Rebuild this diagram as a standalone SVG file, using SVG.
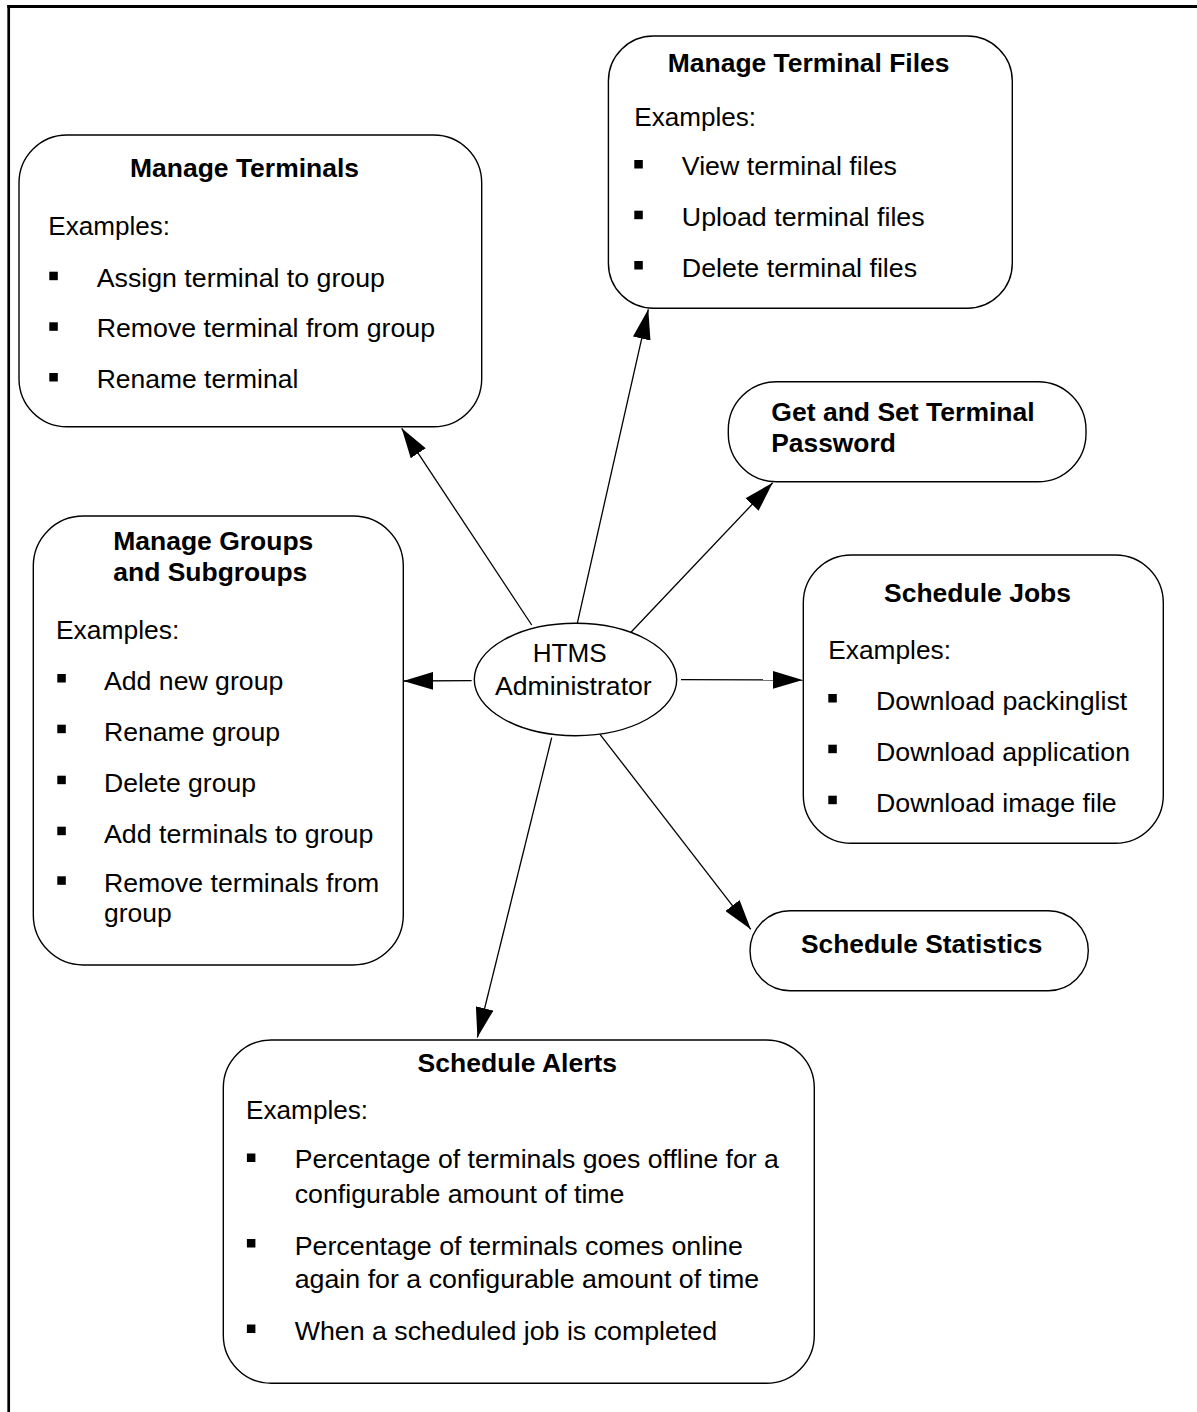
<svg xmlns="http://www.w3.org/2000/svg" width="1197" height="1412" viewBox="0 0 1197 1412">
<style>
  .box { fill: #fff; stroke: #000; stroke-width: 1.4; }
  .frame { stroke: #000; fill: none; }
  .conn { stroke: #000; stroke-width: 1.3; fill: none; marker-end: url(#ah); }
  text { font-family: "Liberation Sans", Arial, Helvetica, sans-serif; font-size: 25px; fill: #000; }
  .t { font-weight: bold; }
  .b { fill: #000; }
</style>
<defs>
  <marker id="ah" markerUnits="userSpaceOnUse" markerWidth="31" markerHeight="18" refX="30" refY="9" orient="auto">
    <path d="M0,0 L30,9 L0,18 Z" fill="#000"/>
  </marker>
</defs>
<rect width="1197" height="1412" fill="#fff"/>
<g id="frame">
  <line class="frame" x1="7.3" y1="6.5" x2="1197" y2="6.5" stroke-width="3"/>
  <line class="frame" x1="8.7" y1="5" x2="8.7" y2="1412" stroke-width="2.7"/>
</g>
<g id="connectors">
  <line class="conn" x1="531.7" y1="625" x2="401.7" y2="428.3"/>
  <line class="conn" x1="577.3" y1="623.3" x2="648.3" y2="309.3"/>
  <line class="conn" x1="630" y1="633.3" x2="772.7" y2="482.7"/>
  <line class="conn" x1="471.7" y1="680.7" x2="403.3" y2="681"/>
  <line class="conn" x1="681" y1="679.7" x2="802.7" y2="680"/>
  <line class="conn" x1="600" y1="734.3" x2="750.8" y2="929.3"/>
  <line class="conn" x1="551.7" y1="737.7" x2="477.4" y2="1037.5"/>
</g>
<g id="htms-administrator">
  <ellipse class="box" cx="575.5" cy="679.5" rx="101.2" ry="56.2"/>
  <text x="532.7" y="661.7" textLength="74" lengthAdjust="spacingAndGlyphs">HTMS</text>
  <text x="495" y="695" textLength="156.7" lengthAdjust="spacingAndGlyphs">Administrator</text>
</g>
<g id="manage-terminals">
  <rect class="box" x="19" y="135" width="462.7" height="291.7" rx="48" ry="48"/>
  <text class="t" x="130" y="176.7" textLength="229" lengthAdjust="spacingAndGlyphs">Manage Terminals</text>
  <text x="48.3" y="235" textLength="121.7" lengthAdjust="spacingAndGlyphs">Examples:</text>
  <rect class="b" x="49.3" y="271.7" width="8.5" height="8.5"/>
  <rect class="b" x="49.3" y="322.3" width="8.5" height="8.5"/>
  <rect class="b" x="49.3" y="373" width="8.5" height="8.5"/>
  <text x="96.7" y="286.7" textLength="288.3" lengthAdjust="spacingAndGlyphs">Assign terminal to group</text>
  <text x="96.7" y="337.3" textLength="338.3" lengthAdjust="spacingAndGlyphs">Remove terminal from group</text>
  <text x="96.7" y="388" textLength="201.6" lengthAdjust="spacingAndGlyphs">Rename terminal</text>
</g>
<g id="manage-terminal-files">
  <rect class="box" x="608.4" y="36" width="403.9" height="272.3" rx="45" ry="45"/>
  <text class="t" x="667.8" y="71.7" textLength="281.7" lengthAdjust="spacingAndGlyphs">Manage Terminal Files</text>
  <text x="634.3" y="126" textLength="121.8" lengthAdjust="spacingAndGlyphs">Examples:</text>
  <rect class="b" x="634.3" y="160" width="8.5" height="8.5"/>
  <rect class="b" x="634.3" y="210.7" width="8.5" height="8.5"/>
  <rect class="b" x="634.3" y="261" width="8.5" height="8.5"/>
  <text x="681.8" y="175" textLength="215.1" lengthAdjust="spacingAndGlyphs">View terminal files</text>
  <text x="681.8" y="226.3" textLength="242.9" lengthAdjust="spacingAndGlyphs">Upload terminal files</text>
  <text x="681.8" y="277" textLength="235.3" lengthAdjust="spacingAndGlyphs">Delete terminal files</text>
</g>
<g id="get-set-password">
  <rect class="box" x="728.3" y="381.7" width="357.7" height="100" rx="48" ry="48"/>
  <text class="t" x="771.3" y="420.7" textLength="263.4" lengthAdjust="spacingAndGlyphs">Get and Set Terminal</text>
  <text class="t" x="771.3" y="451.7" textLength="124.5" lengthAdjust="spacingAndGlyphs">Password</text>
</g>
<g id="manage-groups">
  <rect class="box" x="33.3" y="516" width="370" height="449" rx="50" ry="50"/>
  <text class="t" x="113.3" y="550" textLength="200" lengthAdjust="spacingAndGlyphs">Manage Groups</text>
  <text class="t" x="113.3" y="581" textLength="194" lengthAdjust="spacingAndGlyphs">and Subgroups</text>
  <text x="56" y="639.3" textLength="123.3" lengthAdjust="spacingAndGlyphs">Examples:</text>
  <rect class="b" x="57.3" y="674" width="8.5" height="8.5"/>
  <rect class="b" x="57.3" y="724.7" width="8.5" height="8.5"/>
  <rect class="b" x="57.3" y="775.7" width="8.5" height="8.5"/>
  <rect class="b" x="57.3" y="826.7" width="8.5" height="8.5"/>
  <rect class="b" x="57.3" y="876.3" width="8.5" height="8.5"/>
  <text x="104" y="690" textLength="179.3" lengthAdjust="spacingAndGlyphs">Add new group</text>
  <text x="104" y="740.7" textLength="176" lengthAdjust="spacingAndGlyphs">Rename group</text>
  <text x="104" y="791.7" textLength="152" lengthAdjust="spacingAndGlyphs">Delete group</text>
  <text x="104" y="842.7" textLength="269.3" lengthAdjust="spacingAndGlyphs">Add terminals to group</text>
  <text x="104" y="892.3" textLength="275.3" lengthAdjust="spacingAndGlyphs">Remove terminals from</text>
  <text x="104" y="921.7" textLength="67.7" lengthAdjust="spacingAndGlyphs">group</text>
</g>
<g id="schedule-jobs">
  <rect class="box" x="803.3" y="555" width="360" height="288.3" rx="48" ry="48"/>
  <text class="t" x="884" y="601.7" textLength="187" lengthAdjust="spacingAndGlyphs">Schedule Jobs</text>
  <text x="828.3" y="659.3" textLength="122.7" lengthAdjust="spacingAndGlyphs">Examples:</text>
  <rect class="b" x="828.3" y="694" width="8.5" height="8.5"/>
  <rect class="b" x="828.3" y="744.7" width="8.5" height="8.5"/>
  <rect class="b" x="828.3" y="795.7" width="8.5" height="8.5"/>
  <text x="876" y="710" textLength="251.3" lengthAdjust="spacingAndGlyphs">Download packinglist</text>
  <text x="876" y="760.7" textLength="254" lengthAdjust="spacingAndGlyphs">Download application</text>
  <text x="876" y="811.7" textLength="240.7" lengthAdjust="spacingAndGlyphs">Download image file</text>
</g>
<g id="schedule-statistics">
  <rect class="box" x="750" y="910.7" width="338.3" height="80" rx="40" ry="40"/>
  <text class="t" x="801" y="953.3" textLength="241.3" lengthAdjust="spacingAndGlyphs">Schedule Statistics</text>
</g>
<g id="schedule-alerts">
  <rect class="box" x="223.3" y="1040" width="591" height="343.3" rx="48" ry="48"/>
  <text class="t" x="417.6" y="1072.3" textLength="199.5" lengthAdjust="spacingAndGlyphs">Schedule Alerts</text>
  <text x="246.1" y="1119.3" textLength="122" lengthAdjust="spacingAndGlyphs">Examples:</text>
  <rect class="b" x="246.9" y="1153.5" width="8.5" height="8.5"/>
  <rect class="b" x="246.9" y="1239" width="8.5" height="8.5"/>
  <rect class="b" x="246.9" y="1324.5" width="8.5" height="8.5"/>
  <text x="294.7" y="1168.3" textLength="484.1" lengthAdjust="spacingAndGlyphs">Percentage of terminals goes offline for a</text>
  <text x="294.7" y="1203.3" textLength="329.8" lengthAdjust="spacingAndGlyphs">configurable amount of time</text>
  <text x="294.7" y="1255" textLength="448.2" lengthAdjust="spacingAndGlyphs">Percentage of terminals comes online</text>
  <text x="294.7" y="1288.3" textLength="464.5" lengthAdjust="spacingAndGlyphs">again for a configurable amount of time</text>
  <text x="294.7" y="1340" textLength="422.4" lengthAdjust="spacingAndGlyphs">When a scheduled job is completed</text>
</g>
</svg>
